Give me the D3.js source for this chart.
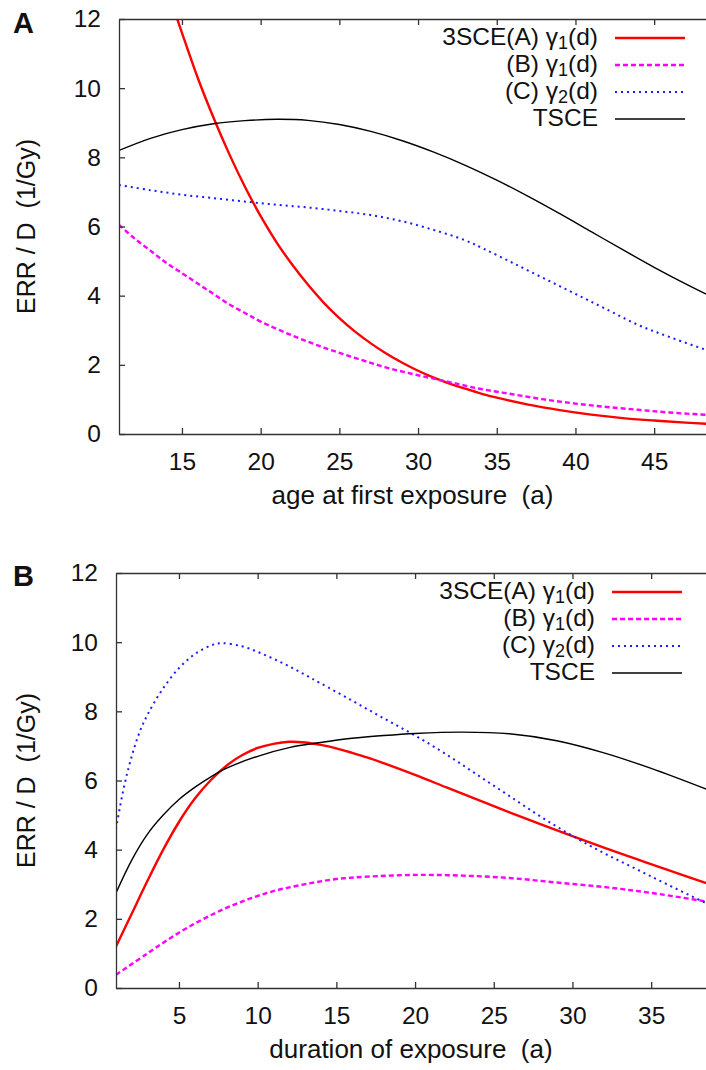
<!DOCTYPE html>
<html>
<head>
<meta charset="utf-8">
<script src="https://cdn.jsdelivr.net/npm/d3@7"></script>
<style>
  body { margin: 0; background: #fff; }
  text { font-family: "Liberation Sans", Arial, sans-serif; fill: #111; white-space: pre; }
</style>
</head>
<body>
<div id="wrapper"></div>
<script>
// ---- panel A : age at first exposure ----
const ageRedX = [14.7, 15, 16, 17, 18, 19, 20, 21, 22, 23, 24, 25, 26, 27, 28, 29, 30, 31, 32, 33, 34, 35, 37, 39, 41, 43, 45, 47, 48.5]
const ageRedY = [12, 11.6, 10.3, 9.15, 8.1, 7.15, 6.3, 5.55, 4.9, 4.32, 3.8, 3.35, 2.96, 2.62, 2.32, 2.06, 1.83, 1.63, 1.46, 1.31, 1.17, 1.05, 0.85, 0.69, 0.56, 0.46, 0.39, 0.33, 0.29]
const ageMagX = [11, 12, 13, 14, 15, 16, 17, 18, 19, 20, 22, 24, 26, 28, 30, 32, 34, 36, 38, 40, 42, 44, 46, 48.5]
const ageMagY = [6.05, 5.65, 5.3, 4.95, 4.65, 4.35, 4.05, 3.75, 3.5, 3.25, 2.85, 2.5, 2.2, 1.92, 1.7, 1.5, 1.3, 1.15, 1.0, 0.88, 0.78, 0.7, 0.62, 0.55]
const ageBlueX = [11, 13, 15, 17, 19, 21, 23, 25, 27, 29, 31, 33, 34.2, 36, 38, 40, 42, 44, 46, 48.5]
const ageBlueY = [7.2, 7.05, 6.92, 6.82, 6.72, 6.63, 6.55, 6.45, 6.33, 6.15, 5.9, 5.6, 5.35, 4.95, 4.5, 4.05, 3.6, 3.15, 2.8, 2.4]
const ageBlackX = [11, 13, 15, 17, 19, 21, 23, 25, 27, 29, 31, 33, 35, 37, 39, 41, 43, 45, 47, 48.5]
const ageBlackY = [8.2, 8.55, 8.8, 8.97, 9.06, 9.1, 9.07, 8.95, 8.75, 8.48, 8.15, 7.77, 7.34, 6.87, 6.37, 5.85, 5.33, 4.82, 4.34, 4.0]

// ---- panel B : duration of exposure ----
const durRedX = [1, 2, 3, 4, 5, 6, 7, 8, 9, 10, 11, 12, 13, 14, 15, 16, 17, 18, 20, 22, 24, 26, 28, 30, 32, 34, 36, 38.5]
const durRedY = [1.2, 2.15, 3.1, 4.0, 4.8, 5.47, 6.0, 6.42, 6.73, 6.94, 7.06, 7.12, 7.1, 7.03, 6.93, 6.8, 6.66, 6.5, 6.16, 5.8, 5.44, 5.08, 4.73, 4.39, 4.06, 3.74, 3.42, 3.03]
const durMagX = [1, 3, 5, 7, 9, 11, 13, 15, 17, 20, 23, 26, 29, 32, 35, 38.5]
const durMagY = [0.38, 1.0, 1.6, 2.1, 2.5, 2.8, 3.0, 3.15, 3.22, 3.27, 3.25, 3.18, 3.05, 2.92, 2.75, 2.5]
const durBlueX = [1, 1.5, 2, 2.5, 3, 3.9, 5, 6, 7, 7.7, 9, 10, 11, 12, 13, 14, 16, 18, 20, 22, 24, 26, 28, 30, 32, 34, 36, 38.5]
const durBlueY = [4.6, 5.8, 6.7, 7.4, 7.9, 8.6, 9.25, 9.65, 9.9, 9.97, 9.88, 9.72, 9.52, 9.3, 9.06, 8.81, 8.31, 7.8, 7.3, 6.75, 6.15, 5.55, 4.95, 4.4, 3.9, 3.45, 3.0, 2.45]
const durBlackX = [1, 2, 3, 4, 5, 6, 7, 8, 10, 12, 14, 16, 18, 20, 23, 26, 29, 32, 35, 38.5]
const durBlackY = [2.75, 3.7, 4.45, 5.0, 5.45, 5.8, 6.1, 6.35, 6.7, 6.95, 7.1, 7.22, 7.3, 7.36, 7.4, 7.35, 7.15, 6.8, 6.35, 5.75]

// ticks and labels
const yTicks = [0, 2, 4, 6, 8, 10, 12]
const ageTicks = [15, 20, 25, 30, 35, 40, 45]
const durTicks = [5, 10, 15, 20, 25, 30, 35]
const legendMain = ["3SCE(A) \u03b3", "(B) \u03b3", "(C) \u03b3", "TSCE"]
const legendSub = ["1", "1", "2", ""]
const legendTail = ["(d)", "(d)", "(d)", ""]

const zip = (xs, ys) => xs.map((x, i) => [x, ys[i]])

// line styles for the four series, in legend order
const styles = [
  { color: "#ff0000", width: 2.4, dash: null },
  { color: "#ff00ff", width: 2.4, dash: "5,3" },
  { color: "#1a1aff", width: 2, dash: "2,4" },
  { color: "#000000", width: 1.4, dash: null }
]

const svg = d3.select("#wrapper").append("svg")
  .attr("width", 706)
  .attr("height", 1070)

function drawPanel(opt) {
  const xScale = d3.scaleLinear().domain(opt.xDomain).range([opt.left, opt.left + 37.5 * 15.74])
  const yScale = d3.scaleLinear().domain([0, 12]).range([opt.bottom, opt.top])

  const g = svg.append("g")

  const clipId = "clip" + opt.letter
  g.append("clipPath").attr("id", clipId)
    .append("rect")
      .attr("x", opt.left).attr("y", opt.top)
      .attr("width", 706 - opt.left).attr("height", opt.bottom - opt.top)

  // curves
  const line = d3.line()
    .x(d => xScale(d[0]))
    .y(d => yScale(d[1]))
    .curve(d3.curveCatmullRom.alpha(0.5))

  opt.series.forEach((s, i) => {
    g.append("path")
      .attr("clip-path", `url(#${clipId})`)
      .attr("d", line(s))
      .attr("fill", "none")
      .attr("stroke", styles[i].color)
      .attr("stroke-width", styles[i].width)
      .attr("stroke-dasharray", styles[i].dash)
  })

  // axes
  const xAxis = g.append("g")
    .attr("transform", `translate(0,${opt.bottom})`)
    .call(d3.axisBottom(xScale).tickValues(opt.xTicks).tickSize(-6).tickSizeOuter(0).tickPadding(19))
  const xTop = g.append("g")
    .attr("transform", `translate(0,${opt.top})`)
    .call(d3.axisTop(xScale).tickValues(opt.xTicks).tickSize(-6).tickSizeOuter(0).tickFormat(""))
  const yAxis = g.append("g")
    .attr("transform", `translate(${opt.left},0)`)
    .call(d3.axisLeft(yScale).tickValues(yTicks).tickSize(-6).tickSizeOuter(0).tickPadding(18))

  ;[xAxis, xTop, yAxis].forEach(a => {
    a.selectAll("path, line").attr("stroke", "#333").attr("stroke-width", 1.3)
    a.selectAll("text")
      .attr("fill", "#111")
      .style("font-size", "24.5px")
      .style("font-family", "'Liberation Sans', Arial, sans-serif")
  })

  // axis titles
  g.append("text")
    .attr("x", opt.left + (706 - opt.left) / 2)
    .attr("y", opt.bottom + 70)
    .attr("text-anchor", "middle")
    .style("font-size", "26px")
    .text(opt.xTitle)

  g.append("text")
    .attr("transform", `translate(35,${(opt.top + opt.bottom) / 2}) rotate(-90)`)
    .attr("text-anchor", "middle")
    .style("font-size", "25px")
    .text("ERR / D  (1/Gy)")

  // panel letter
  g.append("text")
    .attr("x", 13)
    .attr("y", opt.letterY)
    .style("font-size", "29px")
    .style("font-weight", "bold")
    .text(opt.letter)

  // legend
  legendMain.forEach((label, i) => {
    const baseY = opt.top + 26 + i * 27
    const t = g.append("text")
      .attr("x", opt.left + 479)
      .attr("y", baseY)
      .attr("text-anchor", "end")
      .style("font-size", "24.5px")
    t.append("tspan").text(label)
    if (legendSub[i]) {
      t.append("tspan").attr("dy", 4).style("font-size", "18px").text(legendSub[i])
      t.append("tspan").attr("dy", -4).text(legendTail[i])
    }
    g.append("line")
      .attr("x1", opt.left + 496)
      .attr("x2", opt.left + 566)
      .attr("y1", baseY - 7)
      .attr("y2", baseY - 7)
      .attr("stroke", styles[i].color)
      .attr("stroke-width", styles[i].width)
      .attr("stroke-dasharray", styles[i].dash)
  })
}

drawPanel({
  letter: "A", letterY: 33,
  left: 119, top: 19, bottom: 434,
  xDomain: [11, 48.5], xTicks: ageTicks,
  xTitle: "age at first exposure  (a)",
  series: [zip(ageRedX, ageRedY), zip(ageMagX, ageMagY), zip(ageBlueX, ageBlueY), zip(ageBlackX, ageBlackY)]
})

drawPanel({
  letter: "B", letterY: 586,
  left: 116, top: 573, bottom: 988,
  xDomain: [1, 38.5], xTicks: durTicks,
  xTitle: "duration of exposure  (a)",
  series: [zip(durRedX, durRedY), zip(durMagX, durMagY), zip(durBlueX, durBlueY), zip(durBlackX, durBlackY)]
})
</script>
</body>
</html>
